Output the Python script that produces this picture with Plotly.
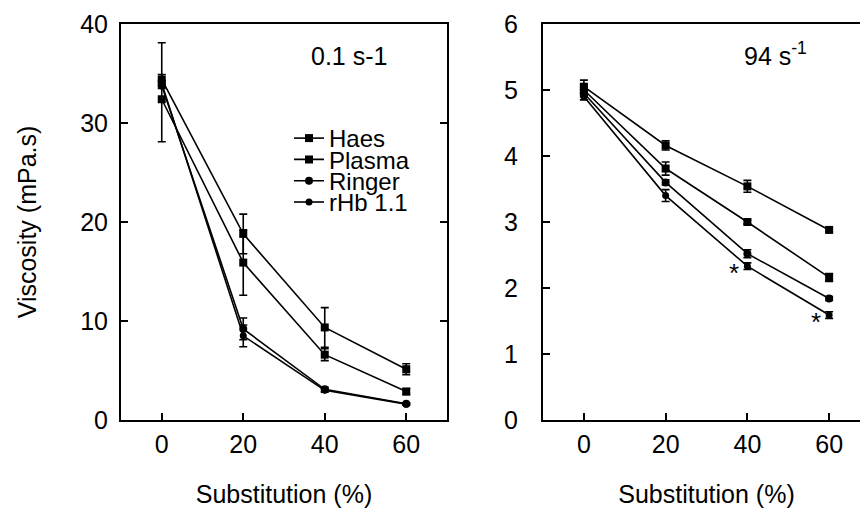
import plotly.graph_objects as go

substitution = [0, 20, 40, 60]
series_names = ["Haes", "Plasma", "Ringer", "rHb 1.1"]
series_symbols = ["square", "square", "circle", "circle"]
series_sizes = [8, 8, 8, 7]

# Left panel: shear rate 0.1 s-1
low_values = {
    "Haes":    [34.4, 18.8, 9.35, 5.13],
    "Plasma":  [32.4, 15.9, 6.6, 2.87],
    "Ringer":  [33.8, 9.2, 3.1, 1.65],
    "rHb 1.1": [34.0, 8.5, 3.0, 1.6],
}
low_err_plus = {
    "Haes":    [0.5, 2.0, 2.0, 0.55],
    "Plasma":  [5.7, 3.3, 0.6, 0.3],
    "Ringer":  [0.3, 1.1, 0.2, 0.1],
    "rHb 1.1": [0.3, 1.1, 0.2, 0.1],
}
low_err_minus = {
    "Haes":    [0.5, 2.0, 2.0, 0.55],
    "Plasma":  [4.3, 3.3, 0.6, 0.3],
    "Ringer":  [0.3, 1.1, 0.2, 0.1],
    "rHb 1.1": [0.3, 1.1, 0.2, 0.1],
}

# Right panel: shear rate 94 s-1
high_values = {
    "Haes":    [5.05, 4.16, 3.54, 2.88],
    "Plasma":  [5.0, 3.81, 3.0, 2.16],
    "Ringer":  [4.95, 3.6, 2.52, 1.84],
    "rHb 1.1": [4.9, 3.4, 2.33, 1.59],
}
high_err = {
    "Haes":    [0.1, 0.07, 0.09, 0.03],
    "Plasma":  [0.08, 0.1, 0.03, 0.06],
    "Ringer":  [0.05, 0.04, 0.06, 0.03],
    "rHb 1.1": [0.05, 0.09, 0.05, 0.05],
}
star_x = [40, 60]
star_y = [2.33, 1.59]

left_yticks = [0, 10, 20, 30, 40]
right_yticks = [0, 1, 2, 3, 4, 5, 6]
xticks = [0, 20, 40, 60]

FONT = "Arial, Liberation Sans, Helvetica, sans-serif"
BLACK = "black"
TICK_SIZE = 25
TITLE_SIZE = 25

fig = go.Figure()

legend_ids = ["legend", "legend2", "legend3", "legend4"]
for i, name in enumerate(series_names):
    fig.add_trace(go.Scatter(
        x=substitution, y=low_values[name], name=name, mode="lines+markers",
        line=dict(color=BLACK, width=1.6),
        marker=dict(symbol=series_symbols[i], size=series_sizes[i], color=BLACK),
        error_y=dict(type="data", symmetric=False, array=low_err_plus[name],
                     arrayminus=low_err_minus[name], color=BLACK, thickness=1.6, width=4),
        xaxis="x", yaxis="y", legend=legend_ids[i], showlegend=True,
    ))
for i, name in enumerate(series_names):
    fig.add_trace(go.Scatter(
        x=substitution, y=high_values[name], name=name, mode="lines+markers",
        line=dict(color=BLACK, width=1.6),
        marker=dict(symbol=series_symbols[i], size=series_sizes[i], color=BLACK),
        error_y=dict(type="data", array=high_err[name], color=BLACK, thickness=1.6, width=4),
        xaxis="x2", yaxis="y2", showlegend=False,
    ))
# trace carrying the right-side ticks of the right panel
fig.add_trace(go.Scatter(x=[0], y=[0], xaxis="x2", yaxis="y3", showlegend=False,
                         mode="markers", marker=dict(opacity=0), hoverinfo="skip"))

axis_common = dict(
    showline=True, linecolor=BLACK, linewidth=2, ticks="inside", ticklen=7,
    tickwidth=1.5, tickcolor=BLACK, showgrid=False, zeroline=False, automargin=False,
    tickfont=dict(family=FONT, size=TICK_SIZE, color=BLACK),
)

# the page adds an 8px body margin, so the figure is offset by 8px
PLOT_W = 749
left_dom = [0, 326 / PLOT_W]
right_dom = [422 / PLOT_W, 1]

fig.update_layout(
    width=868, height=508,
    margin=dict(l=113, r=6, t=16, b=96, autoexpand=False),
    paper_bgcolor="white", plot_bgcolor="white",
    font=dict(family=FONT, color=BLACK),
    xaxis=dict(domain=left_dom, range=[-10, 70], tickvals=xticks, mirror=True,
               ticklabelstandoff=1,
               title=dict(text="Substitution (%)", font=dict(family=FONT, size=TITLE_SIZE),
                          standoff=28),
               **axis_common),
    yaxis=dict(domain=[0, 1], range=[0, 40], tickvals=left_yticks, mirror="ticks",
               ticklabelstandoff=6,
               title=dict(text="Viscosity (mPa.s)", font=dict(family=FONT, size=TITLE_SIZE),
                          standoff=36),
               **axis_common),
    xaxis2=dict(domain=right_dom, range=[-10, 70], tickvals=xticks, mirror=True,
                anchor="y2", ticklabelstandoff=1,
                title=dict(text="Substitution (%)", font=dict(family=FONT, size=TITLE_SIZE),
                           standoff=28),
                **axis_common),
    yaxis2=dict(domain=[0, 1], range=[0, 6], tickvals=right_yticks, anchor="x2",
                ticklabelstandoff=18, **axis_common),
    yaxis3=dict(overlaying="y2", side="right", anchor="x2", range=[0, 6],
                tickvals=right_yticks[1:6], showticklabels=False, showline=False,
                ticks="inside", ticklen=6, tickwidth=1.5, tickcolor=BLACK,
                showgrid=False, zeroline=False, automargin=False),
)

legend_top = 1 - 92 / 396
for i, lid in enumerate(legend_ids):
    fig.update_layout(**{lid: dict(
        x=168 / PLOT_W, xanchor="left",
        y=legend_top - i * 21.3 / 396, yanchor="top",
        bgcolor="rgba(0,0,0,0)", borderwidth=0,
        font=dict(family=FONT, size=24, color=BLACK),
        itemwidth=30, tracegroupgap=0,
    )})

fig.add_annotation(x=46, y=36.8, xref="x", yref="y", text="0.1 s-1", showarrow=False,
                   font=dict(family=FONT, size=25, color=BLACK))
fig.add_annotation(x=47, y=5.55, xref="x2", yref="y2", text="94 s<sup>-1</sup>",
                   showarrow=False, font=dict(family=FONT, size=25, color=BLACK))
for sx, sy in zip(star_x, star_y):
    fig.add_annotation(x=sx, y=sy, xref="x2", yref="y2", text="*", showarrow=False,
                       xshift=-13, yshift=-7, font=dict(family=FONT, size=26, color=BLACK))

fig.write_html("out.html")
